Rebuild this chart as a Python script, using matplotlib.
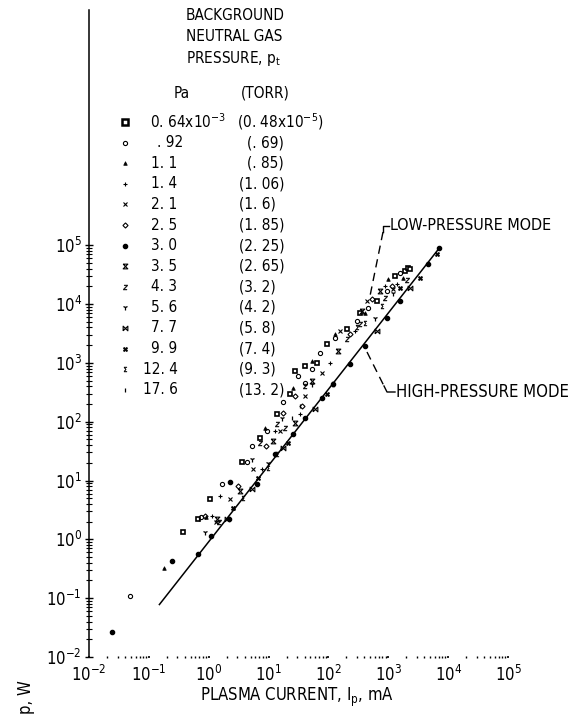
import matplotlib
matplotlib.use('Agg')
import matplotlib.pyplot as plt
from matplotlib.path import Path
from matplotlib.ticker import FixedLocator, LogFormatterMathtext, NullFormatter

plt.rcParams['font.family'] = ['DejaVu Sans']
plt.rcParams['font.stretch'] = 'condensed'
plt.rcParams['mathtext.fontset'] = 'custom'
plt.rcParams['mathtext.rm'] = 'DejaVu Sans:stretch=condensed'
plt.rcParams['mathtext.it'] = 'DejaVu Sans:italic:stretch=condensed'
plt.rcParams['mathtext.bf'] = 'DejaVu Sans:bold:stretch=condensed'

# background pressure labels
pa_labels = ['0. 64x10$^{-3}$', '. 92', '1. 1', '1. 4', '2. 1', '2. 5', '3. 0',
             '3. 5', '4. 3', '5. 6', '7. 7', '9. 9', '12. 4', '17. 6']
torr_labels = ['(0. 48x10$^{-5}$)', '(. 69)', '(. 85)', '(1. 06)', '(1. 6)', '(1. 85)',
               '(2. 25)', '(2. 65)', '(3. 2)', '(4. 2)', '(5. 8)', '(7. 4)', '(9. 3)', '(13. 2)']

# plasma current (mA) and power (W) for each pressure
cur_064 = [0.37, 0.66, 1.05, 3.58, 7.16, 13.8, 22.7, 27.5, 40.4, 64, 94, 203, 334, 643, 1280, 1880, 2120, 2290]
pow_064 = [1.36, 2.26, 4.77, 21, 52.5, 133, 296, 730, 890, 1000, 2110, 3800, 7130, 11400, 30500, 37200, 41800, 40200]
cur_092 = [0.048, 0.74, 1.66, 4.34, 5.26, 9.3, 17.3, 30.8, 40.4, 52.8, 71.8, 128, 298, 455, 945, 1560]
pow_092 = [0.11, 2.36, 8.6, 21, 38, 69, 216, 600, 456, 790, 1480, 2670, 5210, 8690, 16900, 34400]
cur_11 = [0.18, 0.9, 8.67, 25.5, 52.8, 128, 405, 982, 1750]
pow_11 = [0.33, 2.36, 77.8, 374, 1090, 3150, 7130, 27100, 28200]
cur_14 = [1.13, 1.54, 7.73, 12.7, 33.3, 105, 276, 874, 1390]
pow_14 = [2.45, 5.4, 15.5, 69, 133, 1000, 3520, 20600, 22300]
cur_21 = [1.32, 2.26, 5.47, 15.5, 40.4, 77.6, 155, 438, 1190]
pow_21 = [2.01, 4.77, 15.5, 69, 274, 675, 3520, 11400, 18300]
cur_25 = [0.86, 3.07, 9.0, 17.3, 27.5, 36, 228, 531, 1140]
pow_25 = [2.45, 7.96, 38, 140, 274, 185, 3150, 12400, 20600]
cur_30 = [0.024, 0.24, 0.66, 1.09, 2.17, 2.26, 6.38, 12.7, 25.5, 40, 78, 118, 228, 405, 945, 1560, 4560, 7000]
pow_30 = [0.027, 0.43, 0.57, 1.16, 2.26, 9.6, 8.61, 28, 61, 115, 253, 438, 962, 1950, 5860, 11400, 48900, 91000]
cur_35 = [1.37, 3.32, 11.8, 27.5, 52.8, 144, 361, 721]
pow_35 = [2.26, 6.6, 46.7, 95, 493, 1600, 7700, 16900]
cur_43 = [1.48, 7.16, 13.8, 18.7, 40.4, 203, 334, 874, 2040]
pow_43 = [1.94, 43, 91, 78, 400, 2570, 4600, 12800, 25200]
cur_56 = [0.86, 5.26, 9.73, 16.7, 52.8, 596, 1190]
pow_56 = [1.36, 23.6, 19.7, 115, 440, 5860, 15700]
cur_77 = [2.01, 5.26, 17.3, 59.3, 643, 2290]
pow_77 = [2.26, 7.08, 35.4, 164, 3520, 19000]
cur_99 = [2.54, 6.63, 21, 94, 1560, 3360, 6460]
pow_99 = [3.36, 10.9, 43.1, 296, 19000, 28200, 72400]
cur_124 = [3.72, 9.73, 13.8, 118, 298, 405, 778]
pow_124 = [4.97, 16.1, 28, 438, 4100, 4820, 9400]
cur_176 = [0.68, 1.13, 2.63, 24.5, 33.3]
pow_176 = [2.18, 1.16, 3.36, 115, 185]

# high-pressure mode line
line_cur = [0.15, 7200]
line_pow = [0.078, 9.1e4]

hourglass = Path([(-1, 1), (1, 1), (-1, -1), (1, -1), (-1, 1)])
bowtie = Path([(-1, -1), (-1, 1), (1, -1), (1, 1), (-1, -1)])

styles = [
    dict(marker='s', mfc='white', mec='black', mew=1.2, ms=3),
    dict(marker='o', mfc='none', mec='black', mew=0.8, ms=3),
    dict(marker='^', mfc='black', mec='black', mew=0.5, ms=2.6),
    dict(marker='+', mec='black', mew=0.8, ms=3.4),
    dict(marker='x', mec='black', mew=0.8, ms=3),
    dict(marker='D', mfc='none', mec='black', mew=0.8, ms=2.6),
    dict(marker='o', mfc='black', mec='black', ms=3),
    dict(marker=hourglass, mfc='none', mec='black', mew=0.8, ms=3.4),
    dict(marker='$z$', mec='black', mfc='black', mew=0.3, ms=3.6),
    dict(marker='1', mec='black', mew=0.9, ms=4),
    dict(marker=bowtie, mfc='none', mec='black', mew=0.8, ms=3.4),
    dict(marker='X', mfc='black', mec='black', mew=0.3, ms=3.4),
    dict(marker='$\\Sigma$', mec='black', mfc='black', mew=0.3, ms=3.6),
    dict(marker='|', mec='black', mew=0.9, ms=3),
]

series = [(cur_064, pow_064), (cur_092, pow_092), (cur_11, pow_11), (cur_14, pow_14),
          (cur_21, pow_21), (cur_25, pow_25), (cur_30, pow_30), (cur_35, pow_35),
          (cur_43, pow_43), (cur_56, pow_56), (cur_77, pow_77), (cur_99, pow_99),
          (cur_124, pow_124), (cur_176, pow_176)]

W, H = 573, 717
fig = plt.figure(figsize=(W / 100, H / 100), dpi=100)
ax = fig.add_axes([89 / W, 1 - 657 / H, (508 - 89) / W, (657 - 10) / H])
ax.set_xscale('log')
ax.set_yscale('log')
ax.set_xlim(1e-2, 1e5)
ax.set_ylim(1e-2, 1e9)

ax.plot(line_cur, line_pow, color='black', lw=1.1)
for (c, p), st in zip(series, styles):
    ax.plot(c, p, ls='none', **st)

# axes: solid left spine, bottom only shown by tick dots
for s in ['top', 'right', 'bottom']:
    ax.spines[s].set_visible(False)
ax.spines['left'].set_linewidth(1.1)

decades = [10.0 ** k for k in range(-2, 6)]
minors = [m * 10.0 ** k for k in range(-2, 5) for m in range(2, 10)]
ax.yaxis.set_major_locator(FixedLocator(decades))
ax.yaxis.set_minor_locator(FixedLocator(minors))
ax.xaxis.set_major_locator(FixedLocator(decades))
ax.xaxis.set_minor_locator(FixedLocator(minors))
ax.xaxis.set_major_formatter(LogFormatterMathtext())
ax.yaxis.set_major_formatter(LogFormatterMathtext())
ax.xaxis.set_minor_formatter(NullFormatter())
ax.yaxis.set_minor_formatter(NullFormatter())
ax.tick_params(axis='y', which='major', direction='inout', length=6, width=1, labelsize=12, pad=2)
ax.tick_params(axis='y', which='minor', direction='inout', length=4, width=0.8)
ax.tick_params(axis='x', which='major', direction='inout', length=2, width=1.2, labelsize=12, pad=5)
ax.tick_params(axis='x', which='minor', direction='inout', length=1.5, width=1)

# overlay in pixel units for labels and the key
ov = fig.add_axes([0, 0, 1, 1])
ov.set_xlim(0, W)
ov.set_ylim(H, 0)
ov.axis('off')

ov.text(297, 697, 'PLASMA CURRENT, $\\mathrm{I_p}$, mA', ha='center', va='center', fontsize=12)
ov.text(26, 697, 'p, W', ha='center', va='center', rotation=90, fontsize=12)

for i, line in enumerate(['BACKGROUND', 'NEUTRAL GAS', 'PRESSURE, $\\mathrm{p_t}$']):
    ov.text(186, 15 + i * 21.5, line, ha='left', va='center', fontsize=11)
ov.text(182, 93, 'Pa', ha='center', va='center', fontsize=11)
ov.text(265, 93, '(TORR)', ha='center', va='center', fontsize=11)

pa_x = [150, 157, 151, 151, 151, 151, 151, 151, 151, 151, 151, 151, 143, 143]
torr_x = [237, 247, 247, 239, 239, 239, 239, 239, 239, 239, 239, 239, 239, 239]
for i, st in enumerate(styles):
    y = 122 + i * 20.6
    ov.plot([125], [y], ls='none', **st)
    ov.text(pa_x[i], y, pa_labels[i], ha='left', va='center', fontsize=11)
    ov.text(torr_x[i], y, torr_labels[i], ha='left', va='center', fontsize=11)
ov.lines[0].set_markersize(5)
ov.lines[0].set_markeredgewidth(1.8)

# mode leaders
ov.plot([383, 383, 389], [232, 226, 226], color='black', lw=1)
ov.plot([383, 370], [232, 296], color='black', lw=1, ls=(0, (6, 4)))
ov.text(390, 226, 'LOW-PRESSURE MODE', ha='left', va='center', fontsize=11.5)
ov.plot([367, 384], [352, 386], color='black', lw=1, ls=(0, (6, 4)))
ov.plot([384, 387, 395], [386, 392, 392], color='black', lw=1)
ov.text(396, 392, 'HIGH-PRESSURE MODE', ha='left', va='center', fontsize=12)

fig.savefig('out.png', dpi=100)
